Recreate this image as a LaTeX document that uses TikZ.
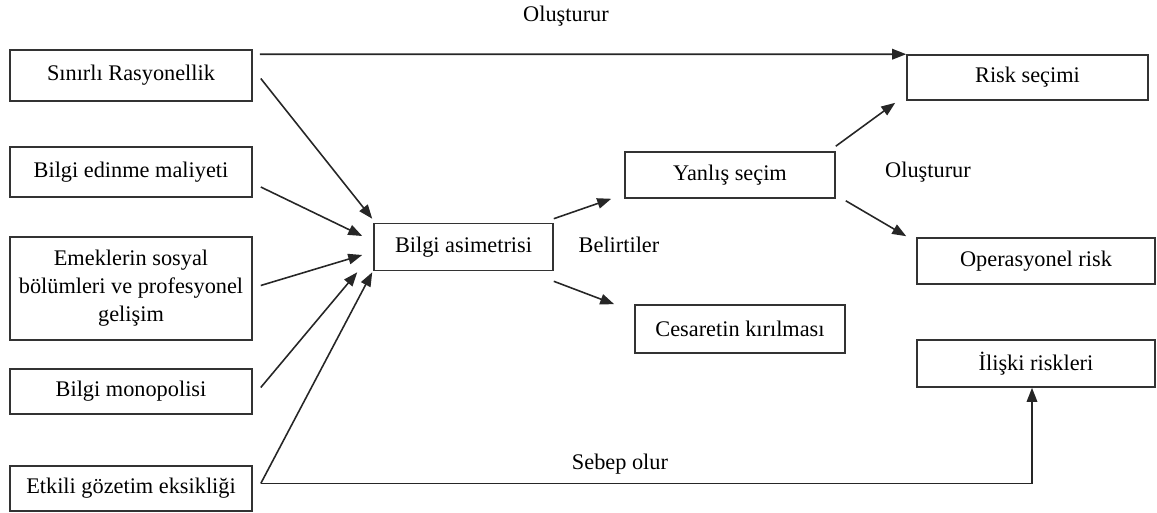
\documentclass[tikz,border=0pt]{standalone}
\usepackage{fontspec}
\setmainfont{Liberation Serif}
\usetikzlibrary{arrows.meta,calc}

\begin{document}
\begin{tikzpicture}[x=0.02cm,y=-0.02cm,
   yazi/.style={font=\fontsize{12.7}{15.9}\selectfont},
   kutu/.style={yazi,draw=black!80,line width=0.9pt,rectangle,inner sep=0pt,align=center},
   ok/.style={-{Triangle[length=2.8mm,width=2.1mm]},line width=0.9pt,black!85}]
   \useasboundingbox (0,0) rectangle (1157,513);
   % sol taraf
   \node[kutu,minimum width=4.84cm,minimum height=1.02cm] (sr) at (131,75.5) {S\i n\i rl\i\ Rasyonellik};
   \node[kutu,minimum width=4.84cm,minimum height=1cm] (bem) at (131,172) {Bilgi edinme maliyeti};
   \node[kutu,minimum width=4.84cm,minimum height=2.06cm] (em) at (131,288.5) {Emeklerin sosyal\\ bölümleri ve profesyonel\\ gelişim};
   \node[kutu,minimum width=4.84cm,minimum height=0.9cm] (bm) at (131,391.5) {Bilgi monopolisi};
   \node[kutu,minimum width=4.84cm,minimum height=0.9cm] (eg) at (131,488.5) {Etkili gözetim eksikliği};
   % orta ve sag
   \node[kutu,minimum width=3.58cm,minimum height=0.94cm] (ba) at (463.5,247) {Bilgi asimetrisi};
   \node[kutu,minimum width=4.2cm,minimum height=0.92cm] (ys) at (730,175) {Yanlış seçim};
   \node[kutu,minimum width=4.2cm,minimum height=0.96cm] (ck) at (740,329) {Cesaretin kırılması};
   \node[kutu,minimum width=4.82cm,minimum height=0.9cm] (rs) at (1027.5,77.5) {Risk seçimi};
   \node[kutu,minimum width=4.76cm,minimum height=0.92cm] (opr) at (1036,261) {Operasyonel risk};
   \node[kutu,minimum width=4.76cm,minimum height=0.94cm] (ir) at (1036,363.5) {İlişki riskleri};
   % etiketler
   \node[yazi] (olus1) at (566,16) {Oluşturur};
   \node[yazi] (bel) at (619,245) {Belirtiler};
   \node[yazi] (olus2) at (928,172) {Oluşturur};
   \node[yazi] (sebep) at (620,464) {Sebep olur};
   % oklar
   \draw[ok] ($(sr.north east)+(7,5)$) -- (rs.north west);
   \draw[ok] ($(sr.east)+(8,3)$) -- ($(ba.north west)+(-1,-4)$);
   \draw[ok] ($(bem.east)+(8,15)$) -- ($(ba.west)+(-11,-11)$);
   \draw[ok] ($(em.east)+(8,-3)$) -- ($(ba.west)+(-11,8)$);
   \draw[ok] ($(bm.east)+(8,-4)$) -- ($(ba.south west)+(-16,1)$);
   \draw[ok] ($(eg.east)+(8,-5)$) -- ($(ba.south west)+(-1,1)$);
   \draw[ok] ($(eg.east)+(8,-5)$) -| ($(ir.south)+(-4,0)$);
   \draw[ok] ($(ba.north east)+(0,-4)$) -- ($(ys.south west)+(-13,0)$);
   \draw[ok] ($(ba.south east)+(0,10)$) -- ($(ck.north west)+(-20,0)$);
   \draw[ok] ($(ys.north east)+(0,-5)$) -- ($(rs.south west)+(-11,2)$);
   \draw[ok] ($(ys.south east)+(10,2)$) -- ($(opr.north west)+(-10,-1)$);
\end{tikzpicture}
\end{document}
